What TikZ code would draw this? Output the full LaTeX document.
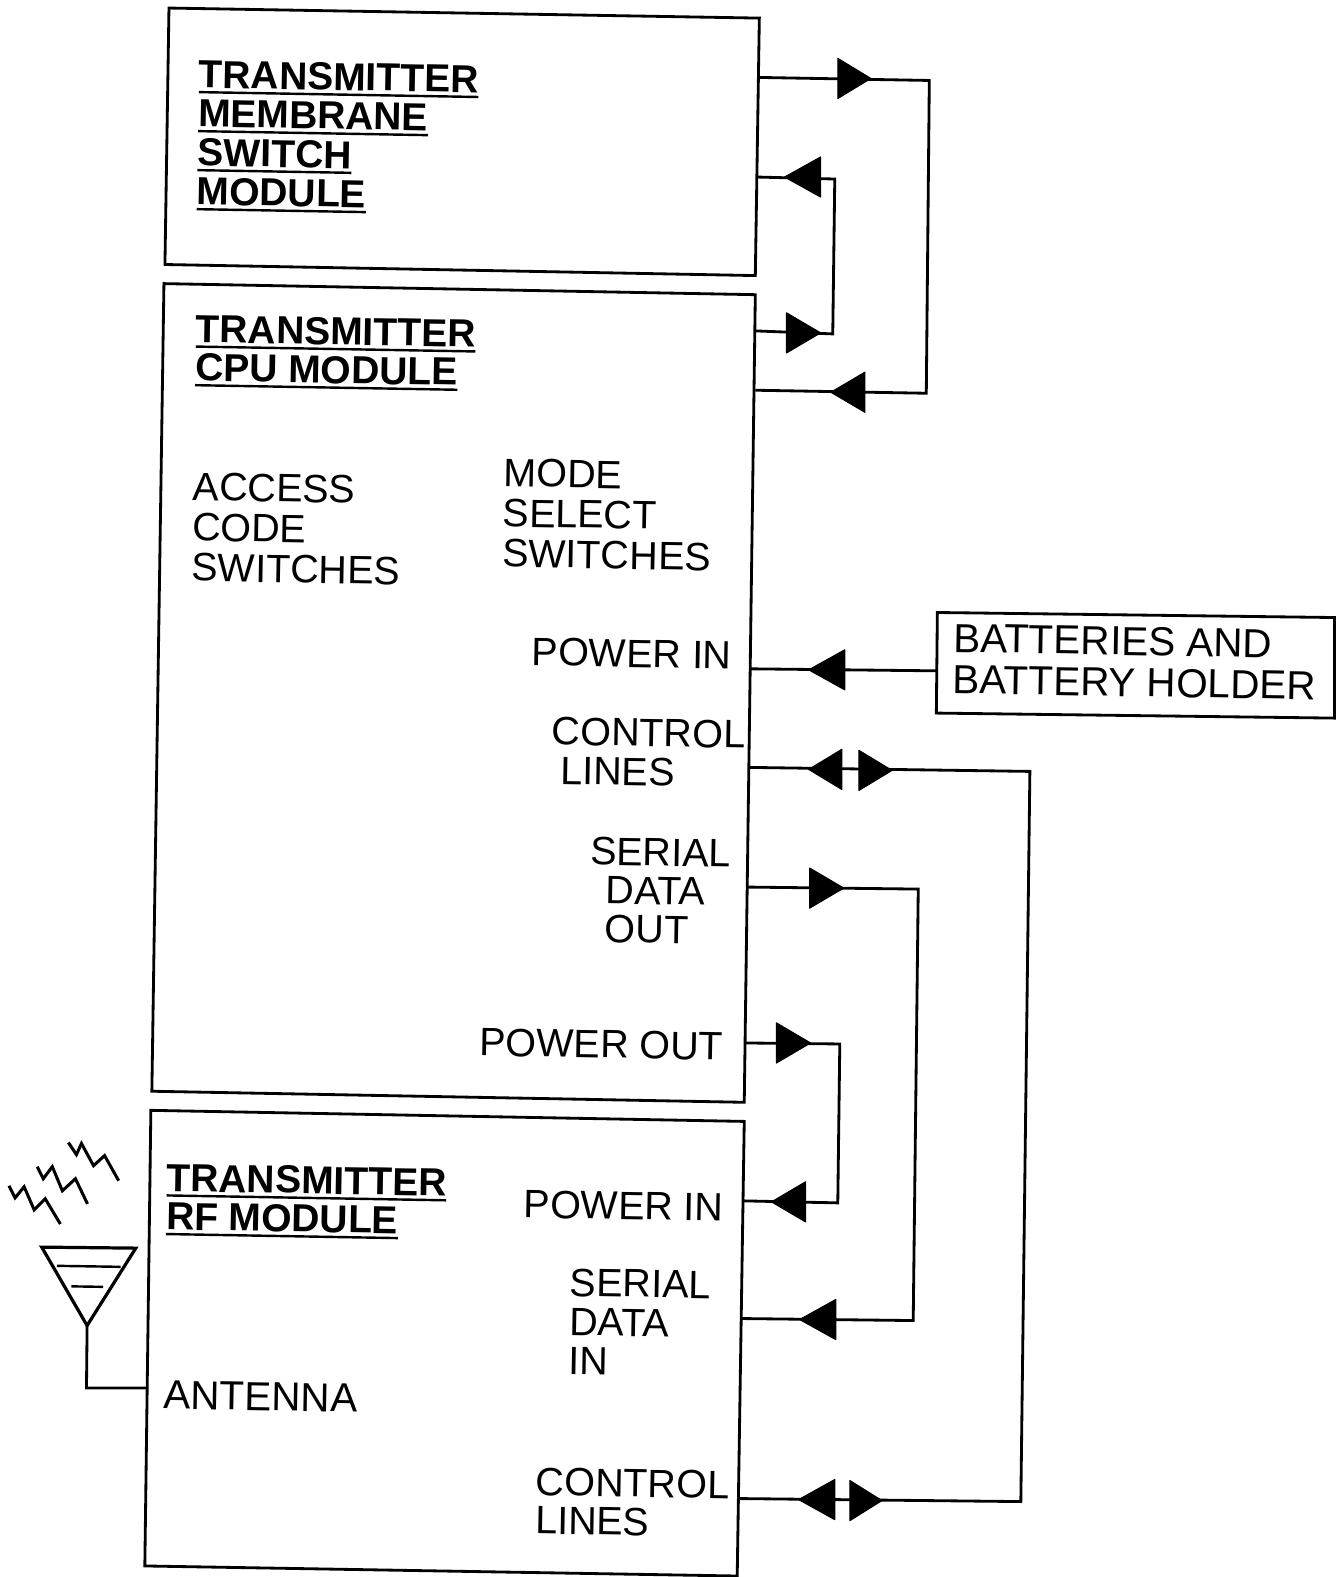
\documentclass[tikz,border=0pt]{standalone}
\usepackage{fontspec}
\setmainfont{Liberation Sans}
\newcommand\ulh[1]{\leavevmode\setbox0\hbox{#1}\rlap{\rule[-5.5pt]{\wd0}{2.4pt}}\box0}
\newcommand\tri[3]{\fill[line join=round,draw=black,line width=1pt] (#1,#3) -- (#2,#3-20) -- (#2,#3+20) -- cycle;}
\tikzset{
  modbox/.style={draw=black,line width=2.8pt,line join=miter,fill=white},
  wire/.style={draw=black,line width=2.8pt,line join=miter},
  fs/.style 2 args={font=\fontsize{#1}{#2}\selectfont},
  hs/.style 2 args={font=\bfseries\fontsize{#1}{#2}\selectfont},
  lab/.style={anchor=north west,inner sep=0pt,align=left,rotate=-1,fs={39.3}{40}},
  head/.style={anchor=north west,inner sep=0pt,align=left,rotate=-1,hs={38.8}{38.4}},
}
\begin{document}
\begin{tikzpicture}[x=1pt,y=-1pt]
\useasboundingbox (0,0) rectangle (1328,1568);
% modules
\draw[modbox] (168,8) -- (755,18) -- (751,274) -- (164,263) -- cycle;
\draw[modbox] (163,282) -- (751,293) -- (740,1096) -- (151,1085) -- cycle;
\draw[modbox] (150,1104) -- (740,1115) -- (733,1567) -- (144,1557) -- cycle;
\draw[modbox] (932,609) -- (1327,614) -- (1327,714) -- (931,709) -- cycle;
% connector ends
\coordinate (m1) at (755,77); \coordinate (m2) at (752,176);
\coordinate (c1) at (751,388); \coordinate (c2) at (751,329);
\coordinate (c3) at (746,665); \coordinate (c4) at (744,763);
\coordinate (c5) at (743,882); \coordinate (c6) at (741,1037);
\coordinate (r1) at (739,1194); \coordinate (r2) at (737,1311);
\coordinate (r3) at (735,1490); \coordinate (b1) at (931,667);
\coordinate (r0) at (147,1380);
% connectors
\draw[wire] (m1) -- (924,80) -- (921,391) -- (c1);
\draw[wire] (m2) -- (830,178) -- (828,332) -- (c2);
\draw[wire] (b1) -- (c3);
\draw[wire] (c4) -- (1024,767) -- (1015,1493) -- (r3);
\draw[wire] (c5) -- (913,884) -- (908,1313) -- (r2);
\draw[wire] (c6) -- (835,1038) -- (833,1196) -- (r1);
% arrowheads
\tri{866}{833}{78}
\tri{780}{816}{176}
\tri{816}{782}{331}
\tri{826}{860}{390}
\tri{804}{840}{666}
\tri{804}{837}{765}
\tri{887}{854}{766}
\tri{839}{805}{883}
\tri{795}{831}{1312}
\tri{806}{772}{1037}
\tri{767}{801}{1195}
\tri{794}{830}{1491}
\tri{877}{845}{1492}
% antenna
\draw[line width=3.2pt,line join=miter] (41.5,1240) -- (135,1241) -- (86.6,1318) -- cycle;
\draw[line width=2.4pt] (56.5,1258.6) -- (120,1259.6);
\draw[line width=2.4pt] (71,1279) -- (102.5,1279.5);
\draw[wire] (86.6,1318) -- (86,1380) -- (r0);
\draw[line width=3pt] (68,1136) -- (76,1148) -- (81,1137) -- (93,1159) -- (104,1149) -- (118,1174);
\draw[line width=3pt] (37,1160) -- (43,1172) -- (52,1160) -- (62,1184) -- (75,1172) -- (87,1197);
\draw[line width=3pt] (9,1179) -- (15,1191) -- (24,1180) -- (34,1203) -- (45,1192) -- (60,1217);
% texts
\node[head,hs={38.8}{38.8}] (t1) at (198,60) {\ulh{TRANSMITTER}\\\ulh{MEMBRANE}\\\ulh{SWITCH}\\\ulh{MODULE}};
\node[head] (t2) at (195,313) {\ulh{TRANSMITTER}\\\ulh{CPU MODULE}};
\node[lab] (t3) at (192,470) {ACCESS\\CODE\\SWITCHES};
\node[lab] (t4) at (501,456) {MODE\\SELECT\\SWITCHES};
\node[lab] (t5) at (529,634) {POWER IN};
\node[lab,fs={39.3}{39}] (t6) at (549,713) {CONTROL\\\hspace*{9pt}LINES};
\node[lab,fs={39.3}{38.5}] (t7) at (587,832) {SERIAL\\\hspace*{16pt}DATA\\\hspace*{16pt}OUT};
\node[lab] (t8) at (477,1022) {POWER OUT};
\node[head] (t9) at (166,1157) {\ulh{TRANSMITTER}\\\ulh{RF MODULE}};
\node[lab] (t10) at (521,1183) {POWER IN};
\node[lab,fs={39.3}{39}] (t11) at (567,1261) {SERIAL\\DATA\\IN};
\node[lab,fs={40.3}{40}] (t12) at (163,1373) {ANTENNA};
\node[lab,fs={39.3}{38.5}] (t13) at (533,1459) {CONTROL\\LINES};
\node[lab,fs={40.3}{41}] (t14) at (948,620) {BATTERIES AND\\BATTERY HOLDER};
\end{tikzpicture}
\end{document}
